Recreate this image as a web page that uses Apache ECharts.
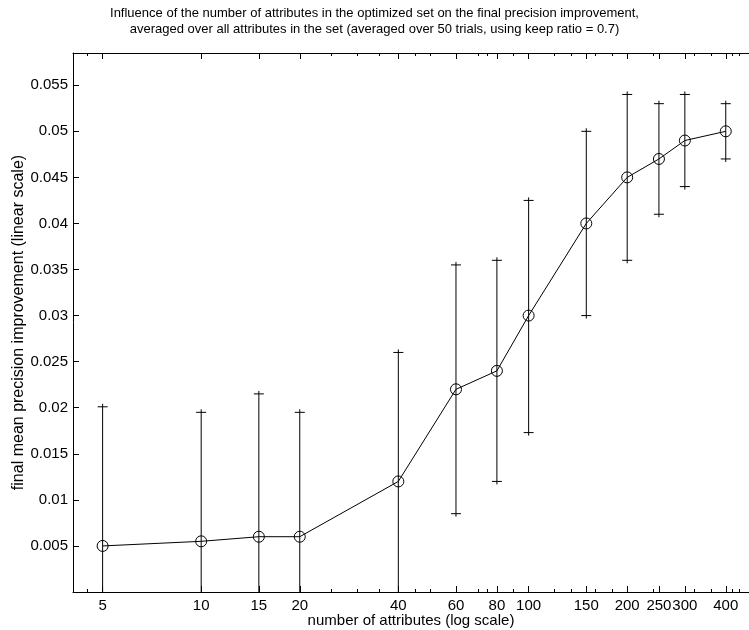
<!DOCTYPE html>
<html>
<head>
<meta charset="utf-8">
<script src="https://cdn.jsdelivr.net/npm/echarts@6/dist/echarts.min.js"></script>
<style>
  html, body { margin: 0; padding: 0; background: #fff; }
  #myChart { width: 749px; height: 630px; }
</style>
</head>
<body>
<div id="myChart"></div>
<script>
// number of attributes in the set
var attrCount = [5, 10, 15, 20, 40, 60, 80, 100, 150, 200, 250, 300, 400];
// mean precision improvement
var meanGain = [0.005, 0.0055, 0.006, 0.006, 0.012, 0.022, 0.024, 0.030, 0.040, 0.045, 0.047, 0.049, 0.050];
// error bar ends
var errLow = [-0.0101, -0.0085, -0.0095, -0.0075, -0.002, 0.0085, 0.012, 0.0173, 0.030, 0.036, 0.041, 0.044, 0.047];
var errHigh = [0.0201, 0.0195, 0.0215, 0.0195, 0.026, 0.0355, 0.036, 0.0425, 0.050, 0.054, 0.053, 0.054, 0.053];
// axis ticks
var xMajorTicks = [5, 10, 15, 20, 40, 60, 80, 100, 150, 200, 250, 300, 400];
var xMinorTicks = [4.5, 25, 30, 35, 45, 50, 70, 75, 90, 120, 135, 160, 180, 240, 320, 360, 420, 440];

var xMin = 4.06, xMax = 471;
var font = 'Liberation Sans, Arial, sans-serif';

var myChart = echarts.init(document.getElementById('myChart'));

function logAxis(pos, ticks, len, showLine, showLabel) {
  return {
    type: 'log',
    position: pos,
    min: xMin,
    max: xMax,
    axisLine: { show: showLine, lineStyle: { color: '#000', width: 1 } },
    axisTick: { show: true, inside: true, length: len, customValues: ticks, lineStyle: { color: '#000' } },
    axisLabel: { show: showLabel, customValues: ticks, color: '#000', fontFamily: font, fontSize: 15, margin: 6 },
    splitLine: { show: false },
    minorTick: { show: false }
  };
}

var bottomAxis = logAxis('bottom', xMajorTicks, 6, true, true);
bottomAxis.name = 'number of attributes (log scale)';
bottomAxis.nameLocation = 'middle';
bottomAxis.nameGap = 21;
bottomAxis.nameMoveOverlap = false;
bottomAxis.nameTextStyle = { color: '#000', fontFamily: font, fontSize: 15 };

myChart.setOption({
  animation: false,
  title: {
    text: 'Influence of the number of attributes in the optimized set on the final precision improvement,\naveraged over all attributes in the set (averaged over 50 trials, using keep ratio = 0.7)',
    left: 'center',
    top: 0,
    textStyle: { color: '#000', fontFamily: font, fontSize: 13, fontWeight: 'normal', lineHeight: 16 }
  },
  grid: { left: 73, top: 53, right: 0, bottom: 38, outerBoundsMode: 'none' },
  xAxis: [
    bottomAxis,
    logAxis('bottom', xMinorTicks, 3, false, false),
    logAxis('top', xMajorTicks, 6, true, false),
    logAxis('top', xMinorTicks, 3, false, false)
  ],
  yAxis: {
    type: 'value',
    min: 0,
    max: 0.0585,
    interval: 0.005,
    name: 'final mean precision improvement (linear scale)',
    nameLocation: 'middle',
    nameGap: 46,
    nameMoveOverlap: false,
    nameTextStyle: { color: '#000', fontFamily: font, fontSize: 16 },
    axisLine: { show: true, lineStyle: { color: '#000', width: 1 } },
    axisTick: { inside: true, length: 6, lineStyle: { color: '#000' } },
    axisLabel: {
      color: '#000', fontFamily: font, fontSize: 15, margin: 5,
      showMaxLabel: false,
      formatter: function (v) {
        if (v === 0) return '';
        var r = Math.round(v * 1000) / 1000;
        if (Math.abs(Math.round(r / 0.005) * 0.005 - r) > 1e-9) return '';
        return String(r);
      }
    },
    splitLine: { show: false }
  },
  series: [
    {
      type: 'custom',
      xAxisIndex: 0,
      clip: true,
      data: attrCount.map(function (x, i) { return [x, errLow[i], errHigh[i]]; }),
      renderItem: function (params, api) {
        var lo = api.coord([api.value(0), api.value(1)]);
        var hi = api.coord([api.value(0), api.value(2)]);
        var w = 5, ext = 3;
        var style = { stroke: '#000', lineWidth: 1 };
        return {
          type: 'group',
          children: [
            { type: 'line', shape: { x1: lo[0], y1: lo[1] + ext, x2: hi[0], y2: hi[1] - ext }, style: style },
            { type: 'line', shape: { x1: lo[0] - w, y1: lo[1], x2: lo[0] + w, y2: lo[1] }, style: style },
            { type: 'line', shape: { x1: hi[0] - w, y1: hi[1], x2: hi[0] + w, y2: hi[1] }, style: style }
          ]
        };
      }
    },
    {
      type: 'line',
      xAxisIndex: 0,
      data: attrCount.map(function (x, i) { return [x, meanGain[i]]; }),
      symbol: 'circle',
      symbolSize: 11,
      lineStyle: { color: '#000', width: 1 },
      itemStyle: { color: 'rgba(0,0,0,0)', borderColor: '#000', borderWidth: 1 }
    }
  ]
});
</script>
</body>
</html>
